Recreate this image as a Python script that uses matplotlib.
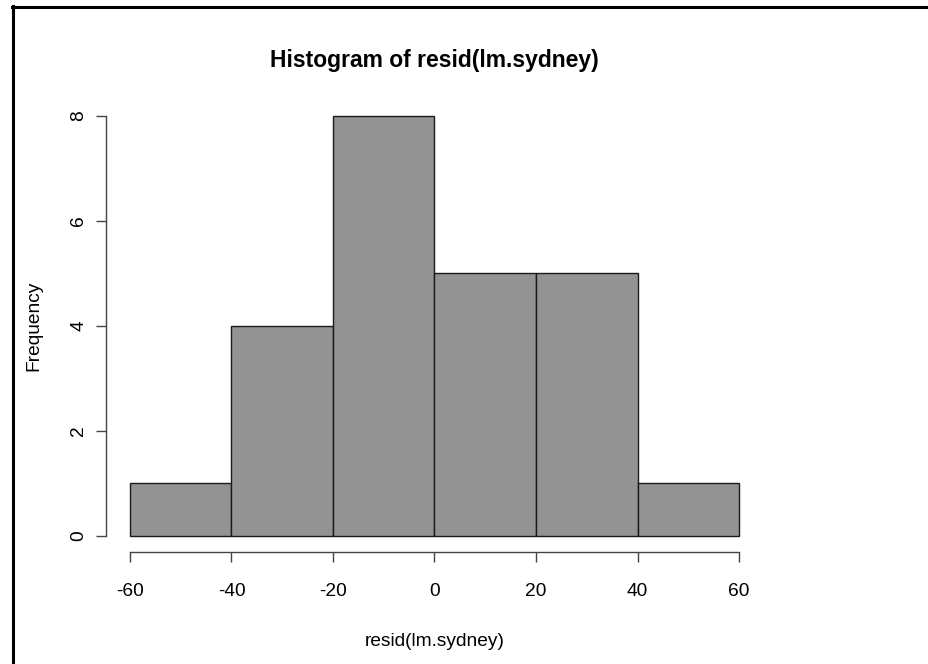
import numpy as np
import matplotlib
matplotlib.use("Agg")
import matplotlib.pyplot as plt
from matplotlib.lines import Line2D

plt.rcParams['font.family'] = ['Liberation Sans', 'DejaVu Sans']
plt.rcParams['axes.unicode_minus'] = False

# histogram of residuals
bin_edges = [-60, -40, -20, 0, 20, 40, 60]
counts = [1, 4, 8, 5, 5, 1]
x_ticks = [-60, -40, -20, 0, 20, 40, 60]
y_ticks = [0, 2, 4, 6, 8]

W, H = 929, 664
fig = plt.figure(figsize=(W / 100, H / 100), dpi=100)

# plot region like R: 4% padding on both axes
ax = fig.add_axes([105.6 / W, 1 - 552.3 / H, (763.4 - 105.6) / W, (552.3 - 99.2) / H])

edges = np.array(bin_edges)
ax.bar(edges[:-1], counts, width=np.diff(edges), align='edge',
       color='#939393', edgecolor='#1a1a1a', linewidth=1.0)

ax.set_xlim(-64.8, 64.8)
ax.set_ylim(-0.32, 8.32)

for s in ['top', 'right']:
    ax.spines[s].set_visible(False)
ax.spines['bottom'].set_bounds(x_ticks[0], x_ticks[-1])
ax.spines['left'].set_bounds(y_ticks[0], y_ticks[-1])
for s in ['bottom', 'left']:
    ax.spines[s].set_color('#444444')
    ax.spines[s].set_linewidth(1.0)

ax.set_xticks(x_ticks)
ax.set_yticks(y_ticks)
ax.tick_params(axis='both', length=7.2, width=1.0, color='#444444', labelsize=13.8)
ax.tick_params(axis='x', pad=15)
ax.tick_params(axis='y', pad=6, labelrotation=90)
for lab in ax.get_yticklabels():
    lab.set_verticalalignment('center')

ax.set_xlabel('resid(lm.sydney)', fontsize=13.8, labelpad=24)
ax.set_ylabel('Frequency', fontsize=13.8, labelpad=20)
fig.text(434 / W, 1 - 60 / H, 'Histogram of resid(lm.sydney)', ha='center', va='center',
         fontsize=16.5, fontweight='bold')

# frame of the screenshot
fig.add_artist(Line2D([12.5 / W, 1], [1 - 7 / H, 1 - 7 / H], color='black', linewidth=2.2,
                      transform=fig.transFigure))
fig.add_artist(Line2D([13 / W, 13 / W], [0, 1 - 6 / H], color='black', linewidth=2.2,
                      transform=fig.transFigure))

fig.savefig('out.png', dpi=100, facecolor='white')
